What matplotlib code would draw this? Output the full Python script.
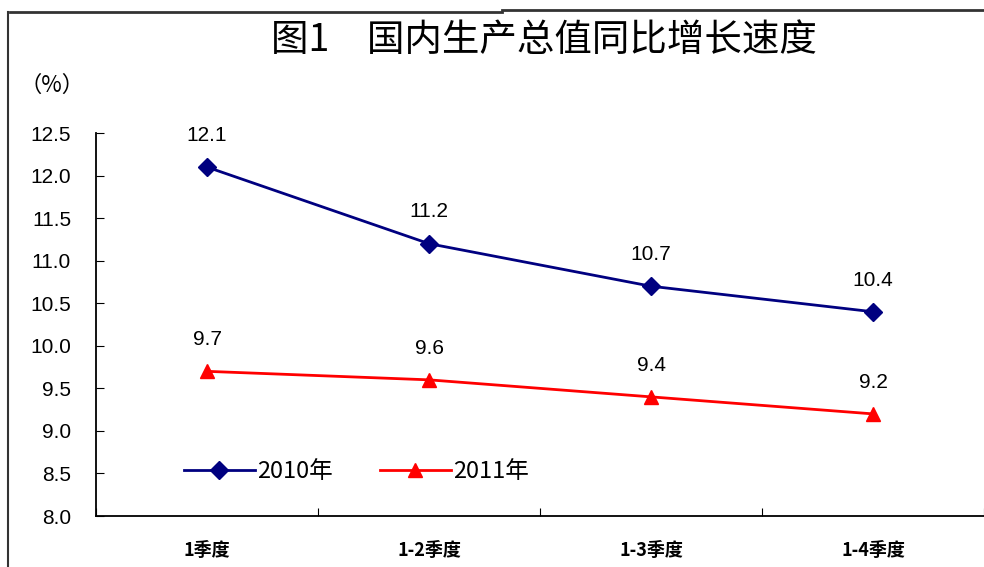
import matplotlib.pyplot as plt
from matplotlib.lines import Line2D

plt.rcParams['font.family'] = ['Noto Sans CJK SC', 'DejaVu Sans']

categories = ['1季度', '1-2季度', '1-3季度', '1-4季度']
gdp_2010 = [12.1, 11.2, 10.7, 10.4]
gdp_2011 = [9.7, 9.6, 9.4, 9.2]
yticks = [8.0, 8.5, 9.0, 9.5, 10.0, 10.5, 11.0, 11.5, 12.0, 12.5]

fig = plt.figure(figsize=(9.84, 5.67), dpi=100)
ax = fig.add_axes([0.0976, 0.0899, 0.9024, 0.6755])

x = [i + 0.5 for i in range(len(categories))]
ax.plot(x, gdp_2010, color='#000080', lw=2, marker='D', ms=9, label='2010年')
ax.plot(x, gdp_2011, color='#ff0000', lw=2, marker='^', ms=10, label='2011年')

for xi, v in zip(x, gdp_2010):
    ax.annotate(f'{v:.1f}', (xi, v), xytext=(0, 16), textcoords='offset points',
                ha='center', va='bottom', fontsize=15, family=['Liberation Sans'])
for xi, v in zip(x, gdp_2011):
    ax.annotate(f'{v:.1f}', (xi, v), xytext=(0, 16), textcoords='offset points',
                ha='center', va='bottom', fontsize=15, family=['Liberation Sans'])

ax.set_xlim(0, 4)
ax.set_ylim(8.0, 12.5)
ax.set_yticks(yticks)
ax.set_yticklabels([f'{t:.1f}' for t in yticks], fontsize=15, family=['Liberation Sans'])
ax.set_xticks([0, 1, 2, 3, 4])
ax.set_xticklabels([])
ax.set_xticks(x, minor=True)
ax.set_xticklabels(categories, minor=True, fontsize=13, fontweight='bold')
ax.tick_params(axis='x', which='major', direction='in', length=6)
ax.tick_params(axis='x', which='minor', length=0, pad=18)
ax.tick_params(axis='y', direction='in', length=6, pad=18)
for s in ['top', 'right']:
    ax.spines[s].set_visible(False)
ax.spines['left'].set_linewidth(1.3)
ax.spines['bottom'].set_linewidth(1.3)

ax.legend(loc='lower left', bbox_to_anchor=(0.075, 0.03), ncol=2, frameon=False,
          fontsize=17, handlelength=3.0, handletextpad=0.1, columnspacing=2.0)

fig.text(0.553, 0.928, '图1　国内生产总值同比增长速度', ha='center', va='center',
         fontsize=27)
fig.text(0.02, 0.85, '（%）', ha='left', va='center', fontsize=16)

# outer frame lines
fig.add_artist(Line2D([0.008, 0.008], [0.0, 0.978], color='#333333', lw=1.5))
fig.add_artist(Line2D([0.01, 0.51], [0.978, 0.978], color='#333333', lw=2))
fig.add_artist(Line2D([0.51, 1.0], [0.982, 0.982], color='#333333', lw=2))

fig.savefig('out.png', dpi=100)
